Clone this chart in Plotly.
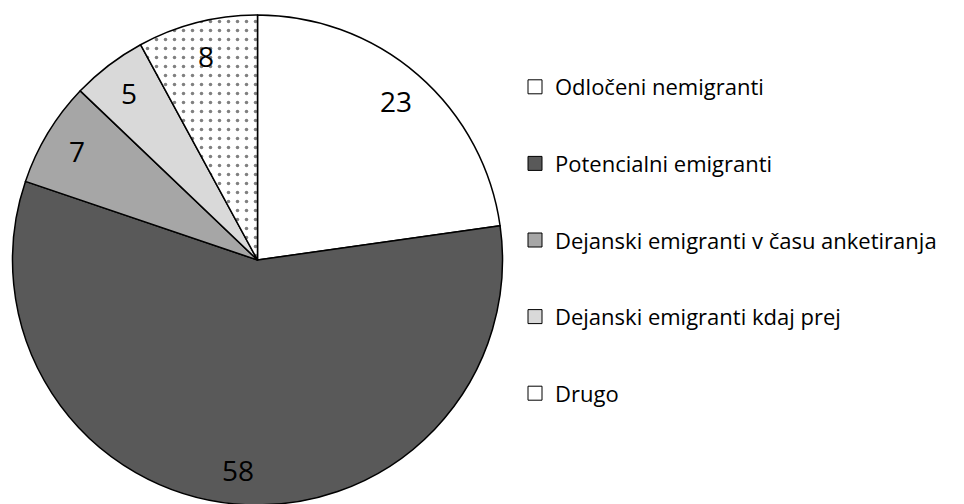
import math
import plotly.graph_objects as go

categories = ["Odločeni nemigranti", "Potencialni emigranti",
              "Dejanski emigranti v času anketiranja",
              "Dejanski emigranti kdaj prej", "Drugo"]
values = [23, 58, 7, 5, 8]
colors = ["#ffffff", "#595959", "#a6a6a6", "#d9d9d9", "#ffffff"]
shapes = ["", "", "", "", "."]

W, H = 964, 504
FONT = "Open Sans"
OFF = 8                            # page body margin offset of the figure
CX, CY, R = 257.5 - OFF, 260.0 - OFF, 245.0   # pie centre / radius in figure pixels
LABEL_R = 0.86                     # label distance as a fraction of the radius

fig = go.Figure()
fig.add_trace(go.Pie(
    values=values, labels=categories, sort=False, direction="clockwise",
    rotation=0,
    marker=dict(colors=colors, line=dict(color="#000000", width=1.5),
                pattern=dict(shape=shapes, fgcolor="#808080", bgcolor="#ffffff",
                             size=9, solidity=0.12)),
    textinfo="none",
    domain=dict(x=[(CX - R) / W, (CX + R) / W],
                y=[max(0.0, 1 - (CY + R) / H), min(1.0, 1 - (CY - R) / H)]),
    showlegend=False, hoverinfo="label+value",
))

# value labels placed at the middle angle of each slice
total = sum(values)
cum = 0.0
for v in values:
    mid = (cum + v / 2) / total * 2 * math.pi
    cum += v
    px = CX + LABEL_R * R * math.sin(mid)
    py = CY - LABEL_R * R * math.cos(mid)
    fig.add_annotation(x=px / W, y=1 - py / H, xref="paper", yref="paper",
                       xanchor="center", yanchor="middle",
                       text=str(v), showarrow=False,
                       font=dict(family=FONT, size=28, color="#000000"))

for i, (c, col) in enumerate(zip(categories, colors)):
    fig.add_trace(go.Scatter(
        x=[None], y=[None], mode="markers", name=c,
        legendgroup=f"g{i}",
        marker=dict(symbol="square", size=14, color=col,
                    line=dict(color="#000000", width=1)),
    ))

fig.update_layout(
    width=W, height=H, margin=dict(l=0, r=0, t=0, b=0),
    paper_bgcolor="#ffffff", plot_bgcolor="#ffffff",
    xaxis=dict(visible=False), yaxis=dict(visible=False),
    legend=dict(x=507 / W, y=1 - 58 / H, xanchor="left", yanchor="top",
                font=dict(family=FONT, size=22, color="#000000"),
                tracegroupgap=45, itemwidth=30, bgcolor="rgba(0,0,0,0)"),
)

fig.write_html("out.html")
